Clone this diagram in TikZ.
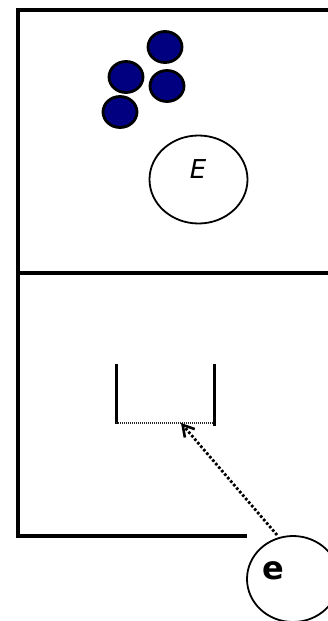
\documentclass[tikz,border=0pt]{standalone}
\usepackage{fontspec}
\setmainfont{DejaVu Sans}
\usetikzlibrary{shapes.geometric,arrows.meta}
\definecolor{navy}{RGB}{0,0,128}
\tikzset{
  frameline/.style={line width=3.3pt},
  ball/.style={ellipse, draw=black, fill=navy, line width=2.8pt, minimum width=34pt, minimum height=31pt, inner sep=0pt},
  bubble/.style={ellipse, draw=black, line width=1.8pt, inner sep=0pt},
  wall/.style={line width=3pt},
  thindot/.style={line width=1.1pt, dash pattern=on 1pt off 1pt, black!85},
  dotarrow/.style={line width=2.8pt, dash pattern=on 2.6pt off 2pt, -{Straight Barb[length=11pt,width=13pt,line width=2.6pt]}}
}
\begin{document}
\begin{tikzpicture}[x=1pt,y=-1pt]
\useasboundingbox (0,0) rectangle (327,621);
% frame
\coordinate (tl) at (18,10);
\coordinate (tr) at (330,10);
\coordinate (ml) at (18,273);
\coordinate (mr) at (330,273);
\coordinate (bl) at (18,536);
\coordinate (br) at (247,536);
\draw[frameline] (tr) -- (tl) -- (bl) -- (br);
\draw[frameline] (ml) -- (mr);
% balls
\node[ball] (b1) at (165,47) {};
\node[ball] (b2) at (126,77) {};
\node[ball] (b3) at (167,86) {};
\node[ball] (b4) at (120,112) {};
% E bubble
\node[bubble, minimum width=98pt, minimum height=88pt] (Ebub) at (198.5,179.5) {};
\node[font=\fontsize{26}{26}\selectfont\itshape] (Elab) at (198,169) {E};
% bracket
\coordinate (lw1) at (116,364);
\coordinate (lw2) at (116,424);
\coordinate (rw1) at (214,364);
\coordinate (rw2) at (214,426);
\draw[wall] (lw1) -- (lw2);
\draw[wall] (rw1) -- (rw2);
\coordinate (fl) at (116,423);
\coordinate (fr) at (214,423);
\draw[thindot] (fl) -- (fr);
\coordinate (tip) at (181,423);
% e bubble
\node[bubble, minimum width=92pt, minimum height=86pt] (ebub) at (293,579) {};
\node[font=\fontsize{32}{32}\selectfont\bfseries] (elab) at (273,571) {e};
\coordinate (start) at (277,535);
\draw[dotarrow] (start) -- (tip);
\end{tikzpicture}
\end{document}
